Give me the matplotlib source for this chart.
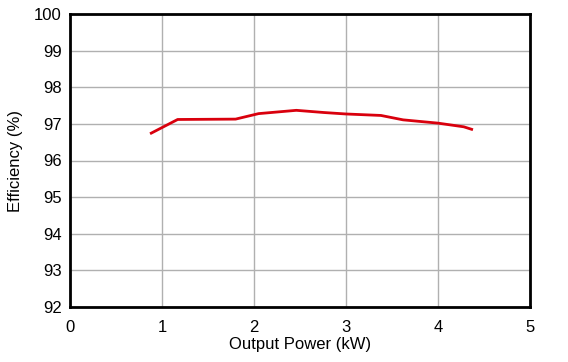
import matplotlib
matplotlib.use("Agg")
import matplotlib.pyplot as plt

# Output power (kW) vs efficiency (%)
power_kw = [0.87, 1.17, 1.80, 2.05, 2.46, 2.76, 3.00, 3.38, 3.62, 4.00, 4.28, 4.38]
efficiency = [96.73, 97.12, 97.13, 97.28, 97.37, 97.31, 97.27, 97.23, 97.11, 97.02, 96.92, 96.84]

x_ticks = [0, 1, 2, 3, 4, 5]
y_ticks = [92, 93, 94, 95, 96, 97, 98, 99, 100]

plt.rcParams["font.family"] = ["Liberation Sans", "DejaVu Sans"]

fig = plt.figure(figsize=(5.68, 3.62), dpi=100)
ax = fig.add_axes([70 / 568, 1 - 307 / 362, 460 / 568, 293 / 362])

ax.plot(power_kw, efficiency, color="#d9000d", linewidth=2.0, solid_capstyle="butt")

ax.set_xlim(0, 5)
ax.set_ylim(92, 100)
ax.set_xticks(x_ticks)
ax.set_yticks(y_ticks)
ax.grid(True, color="#b0b0b0", linewidth=1.0)
ax.set_axisbelow(True)
ax.tick_params(axis="y", length=0, labelsize=12, pad=6)
ax.tick_params(axis="x", length=0, labelsize=12, pad=9)
for spine in ax.spines.values():
    spine.set_linewidth(2.0)
    spine.set_color("black")

ax.set_xlabel("Output Power (kW)", fontsize=12, labelpad=2)
ax.set_ylabel("Efficiency (%)", fontsize=12, labelpad=8)

fig.savefig("out.png", dpi=100)
